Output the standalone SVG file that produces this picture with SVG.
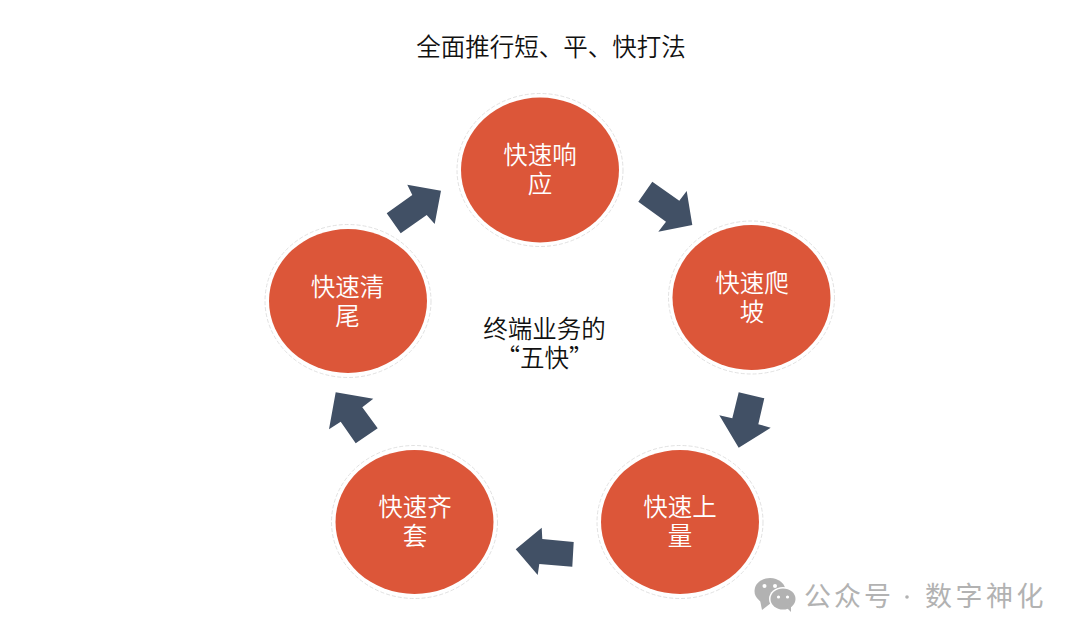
<svg xmlns="http://www.w3.org/2000/svg" width="1080" height="639" viewBox="0 0 1080 639">
<style>
text{font-family:"Noto Sans CJK SC","Liberation Sans",sans-serif;text-anchor:middle;font-weight:400}
.ring{fill:#fff;stroke:#d9d9d9;stroke-width:.8;stroke-dasharray:4 2}
.disc{fill:#dc5639}
.nl{fill:#fff;font-size:24.5px;font-weight:350}
.dark{fill:#111;font-size:24.5px;font-weight:350}
.arrow{fill:#415065}
.wm{fill:#b2b2b2;font-size:27px;text-anchor:start;font-weight:400}
.ic{fill:#b2b2b2}
.eye{fill:#fff}
</style>
<rect width="1080" height="639" fill="#fff"/>
<text class="dark" x="551" y="55.5">全面推行短、平、快打法</text>
<g id="connectors">
<polygon class="arrow" points="638.3,201.7 652.3,181.7 679.3,200.7 686.7,191 692.3,225 658.3,231.7 666,221.7"/>
<polygon class="arrow" points="738.7,392.3 764.3,398.3 758.3,424.3 770.7,427.7 738.7,447.7 719.3,415.3 732.3,418.3"/>
<polygon class="arrow" points="573.7,542 572.3,566.7 539.3,564 537.7,575 515.7,549.3 541.7,527.7 542.3,539"/>
<polygon class="arrow" points="377.7,428.3 355.7,443.3 340.7,421.7 329,429.3 335.7,392.3 373.3,398.7 362.3,407.3"/>
<polygon class="arrow" points="386.7,213.3 400.7,233.3 426.7,215 434.7,224 441,190.7 407.3,184.7 412.3,195"/>
</g>
<g id="node-1"><ellipse class="ring" cx="540" cy="170" rx="83" ry="76.5"/><ellipse class="disc" cx="540" cy="170" rx="79" ry="72.5"/><text class="nl" x="540" y="164">快速响<tspan x="540" dy="29">应</tspan></text></g>
<g id="node-2"><ellipse class="ring" cx="751.5" cy="297.5" rx="83" ry="76.5"/><ellipse class="disc" cx="751.5" cy="297.5" rx="79" ry="72.5"/><text class="nl" x="752" y="292">快速爬<tspan x="752" dy="28.5">坡</tspan></text></g>
<g id="node-3"><ellipse class="ring" cx="680" cy="522" rx="83" ry="76.5"/><ellipse class="disc" cx="680" cy="522" rx="79" ry="72"/><text class="nl" x="680" y="516">快速上<tspan x="680" dy="28.5">量</tspan></text></g>
<g id="node-4"><ellipse class="ring" cx="414.5" cy="522" rx="83" ry="76.5"/><ellipse class="disc" cx="414.5" cy="522" rx="79" ry="72"/><text class="nl" x="415" y="516">快速齐<tspan x="415" dy="28.5">套</tspan></text></g>
<g id="node-5"><ellipse class="ring" cx="348" cy="301" rx="83" ry="76.5"/><ellipse class="disc" cx="348" cy="301" rx="79" ry="72"/><text class="nl" x="347.5" y="296">快速清<tspan x="347.5" dy="28.5">尾</tspan></text></g>
<g id="center-label"><text class="dark" x="544.5" y="338">终端业务的<tspan x="544.5" dy="29">“五快”</tspan></text></g>
<g id="watermark">
<ellipse class="ic" cx="770" cy="591" rx="15.5" ry="13"/><polygon class="ic" points="760,600 762,610 771,603"/>
<ellipse cx="783" cy="599" rx="14" ry="12" fill="#fff"/>
<ellipse class="ic" cx="783" cy="599" rx="12.5" ry="10.5"/><polygon class="ic" points="786,607 791,612 791,603"/>
<circle class="eye" cx="764.5" cy="586" r="2"/><circle class="eye" cx="775" cy="586" r="2"/><circle class="eye" cx="778.5" cy="597" r="1.6"/><circle class="eye" cx="787.5" cy="597" r="1.6"/>
<text class="wm" x="804" y="606" letter-spacing="3">公众号</text><circle class="ic" cx="907" cy="597" r="1.8"/><text class="wm" x="925" y="606" letter-spacing="3.5">数字神化</text>
</g>
</svg>
